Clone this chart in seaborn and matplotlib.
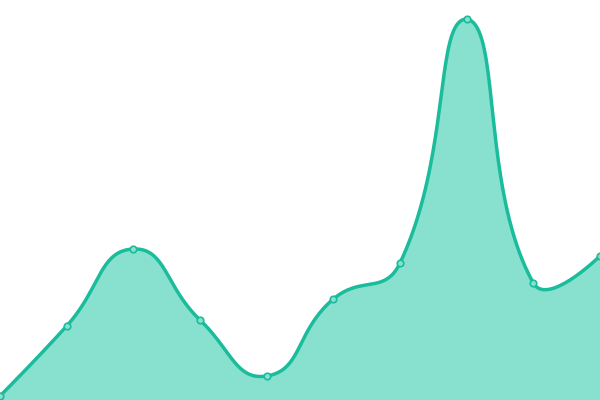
import numpy as np
import matplotlib
matplotlib.use("Agg")
import matplotlib.pyplot as plt
import seaborn as sns

sns.set_theme(style="white")

# data
x_pos = [0, 1, 2, 3, 4, 5, 6, 7, 8, 9]
values = [4, 74, 151, 80, 24, 101, 137, 381, 117, 144]

LINE = "#1abc9c"
FILL = "#88e0cf"
W, H = 600, 400
Y_MAX = 400


def smooth_curve(x, y, smooth=0.5, per_seg=40):
    # bezier smoothing with neighbour-based control points, done in pixel space
    px = np.asarray(x, float) / (len(x) - 1) * W
    py = np.asarray(y, float) / Y_MAX * H
    pts = np.column_stack([px, py])
    n = len(pts)
    lo, hi = pts.min(axis=0), pts.max(axis=0)
    cps = []
    for i in range(n):
        p = pts[i]
        if i == 0 or i == n - 1:
            cps.append((p.copy(), p.copy()))
            continue
        prev, nxt = pts[i - 1], pts[i + 1]
        v = (nxt - prev) * smooth
        d0 = np.linalg.norm(p - prev)
        d1 = np.linalg.norm(p - nxt)
        s = d0 + d1
        d0, d1 = d0 / s, d1 / s
        c0 = np.clip(p - v * d0, lo, hi)
        c1 = np.clip(p + v * d1, lo, hi)
        cps.append((c0, c1))
    xs, ys = [], []
    for i in range(n - 1):
        p0, p3 = pts[i], pts[i + 1]
        p1, p2 = cps[i][1], cps[i + 1][0]
        u = np.linspace(0, 1, per_seg, endpoint=(i == n - 2))[:, None]
        b = ((1 - u) ** 3) * p0 + 3 * ((1 - u) ** 2) * u * p1 + 3 * (1 - u) * u**2 * p2 + u**3 * p3
        xs.append(b[:, 0])
        ys.append(b[:, 1])
    cx = np.concatenate(xs) / W * (len(x) - 1)
    cy = np.concatenate(ys) / H * Y_MAX
    return cx, cy


cx, cy = smooth_curve(x_pos, values)

fig = plt.figure(figsize=(6, 4), dpi=100)
ax = fig.add_axes([0, 0, 1, 1])
ax.fill_between(cx, 0, cy, color=FILL, linewidth=0)
sns.lineplot(x=cx, y=cy, color=LINE, linewidth=2.5, ax=ax, sort=False)
sns.scatterplot(x=x_pos, y=values, s=22, color=FILL, edgecolor=LINE,
                linewidth=1.2, ax=ax, zorder=5, clip_on=False)
ax.set_xlim(0, 9)
ax.set_ylim(0, Y_MAX)
ax.axis("off")
fig.savefig("out.png", dpi=100)
